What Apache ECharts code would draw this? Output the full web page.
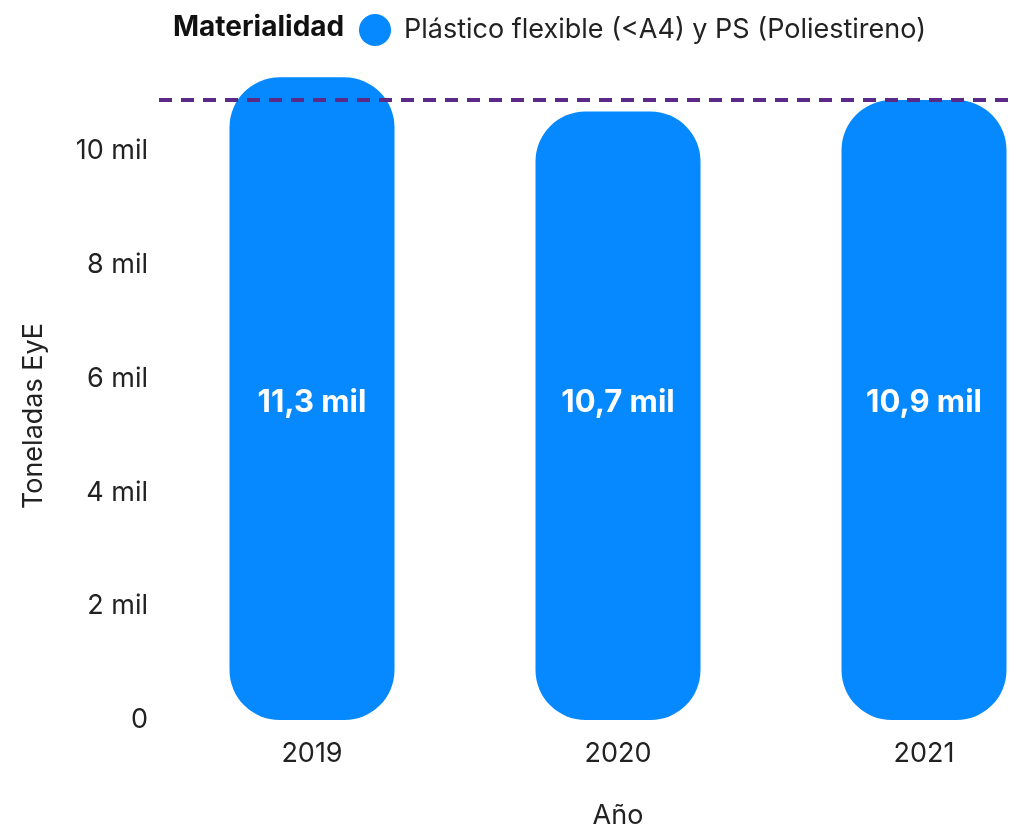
<!DOCTYPE html>
<html>
<head>
<meta charset="utf-8">
<script src="https://cdn.jsdelivr.net/npm/echarts@6/dist/echarts.min.js"></script>
<style>
  html, body { margin: 0; padding: 0; background: #fff; }
  #chart { width: 1009px; height: 828px; }
</style>
</head>
<body>
<div id="chart"></div>
<script>
  // datos
  const years = ['2019', '2020', '2021']
  const toneladas = [11300, 10700, 10900]
  const lineaRef = [10900]
  const serieNombre = 'Plástico flexible (<A4) y PS (Poliestireno)'

  const font = 'Inter, "Noto Sans", sans-serif'
  const chart = echarts.init(document.getElementById('chart'))

  const fmtMil = v => v === 0 ? '0' : (v / 1000).toString().replace('.', ',') + ' mil'

  chart.setOption({
    animation: false,
    textStyle: { fontFamily: font },
    title: {
      text: 'Materialidad',
      left: 168,
      top: 9,
      textStyle: { fontSize: 28, fontWeight: 'bold', color: '#111', fontFamily: font }
    },
    legend: {
      left: 354,
      top: 9,
      icon: 'circle',
      itemWidth: 32,
      itemHeight: 32,
      itemGap: 10,
      textStyle: { fontSize: 27, color: '#222', fontFamily: font, padding: [0, 0, 0, 8] },
      data: [serieNombre]
    },
    grid: { left: 159, right: -68, top: 66, bottom: 108, outerBoundsMode: 'none', containLabel: false },
    xAxis: {
      type: 'category',
      data: years,
      name: 'Año',
      nameLocation: 'middle',
      nameGap: 82,
      nameTextStyle: { fontSize: 27, color: '#222' },
      axisLine: { show: false },
      axisTick: { show: false },
      axisLabel: { fontSize: 27, color: '#222', margin: 20 }
    },
    yAxis: {
      type: 'value',
      min: 0,
      max: 11500,
      interval: 2000,
      name: 'Toneladas EyE',
      nameLocation: 'middle',
      nameGap: 112,
      nameTextStyle: { fontSize: 27, color: '#222', padding: [0, 46, 0, 0] },
      splitLine: { show: false },
      axisLine: { show: false },
      axisTick: { show: false },
      axisLabel: {
        fontSize: 27,
        color: '#222',
        margin: 11,
        showMaxLabel: false,
        formatter: fmtMil
      }
    },
    series: [{
      name: serieNombre,
      type: 'bar',
      data: toneladas,
      barWidth: 165,
      itemStyle: { color: '#0689FF', borderRadius: 50 },
      label: {
        show: true,
        position: 'insideBottom',
        distance: 302,
        color: '#fff',
        fontSize: 31,
        fontWeight: 'bold',
        formatter: p => (p.value / 1000).toFixed(1).replace('.', ',') + ' mil'
      },
      markLine: {
        silent: true,
        symbol: 'none',
        label: { show: false },
        lineStyle: { color: '#5B2A86', width: 4, type: [13, 9] },
        data: lineaRef.map(v => ({ yAxis: v }))
      }
    }]
  })
</script>
</body>
</html>
